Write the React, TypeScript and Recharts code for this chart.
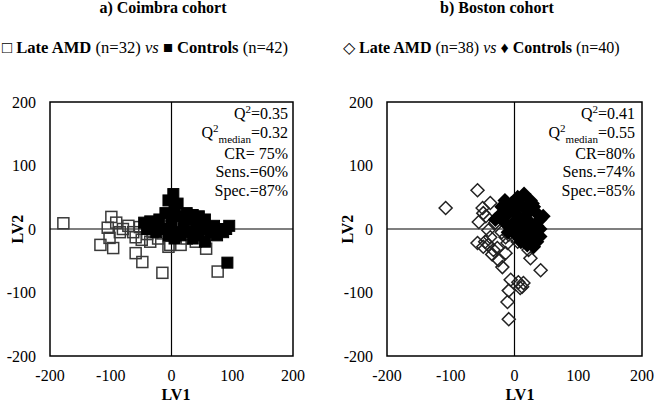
import React from "react";
import {
  ScatterChart,
  Scatter,
  XAxis,
  YAxis,
  ReferenceLine,
  ReferenceArea,
} from "recharts";

const ticks = [-200, -100, 0, 100, 200];

const coimbraAmd = [
  { x: -178, y: 9 }, { x: -99, y: 19 }, { x: -91, y: 10 }, { x: -105, y: 2 },
  { x: -102, y: -14 }, { x: -117, y: -25 }, { x: -96, y: -30 }, { x: -71, y: 5 },
  { x: -63, y: -5 }, { x: -59, y: -13 }, { x: -49, y: -17 }, { x: -59, y: -38 },
  { x: -48, y: -52 }, { x: -35, y: -20 }, { x: -31, y: -5 }, { x: -15, y: -7 },
  { x: -15, y: -69 }, { x: -5, y: -28 }, { x: -2, y: -25 }, { x: 15, y: -25 },
  { x: 57, y: -31 }, { x: 76, y: -67 }, { x: -80, y: 0 }, { x: -40, y: -8 },
  { x: -22, y: -15 }, { x: 5, y: -10 }, { x: 25, y: -15 }, { x: 40, y: -20 },
  { x: -85, y: -5 }, { x: 8, y: 5 }, { x: -52, y: 3 }, { x: 30, y: -8 },
];

const coimbraControls = [
  { x: 3, y: 55 }, { x: -5, y: 45 }, { x: 10, y: 40 }, { x: 5, y: 30 },
  { x: -10, y: 25 }, { x: 15, y: 20 }, { x: -20, y: 15 }, { x: -35, y: 12 },
  { x: -45, y: 10 }, { x: -30, y: 5 }, { x: 25, y: 25 }, { x: 35, y: 22 },
  { x: 30, y: 15 }, { x: 45, y: 20 }, { x: 40, y: 10 }, { x: 55, y: 15 },
  { x: 50, y: 5 }, { x: 60, y: 0 }, { x: 70, y: 5 }, { x: 80, y: 0 },
  { x: 90, y: 0 }, { x: -15, y: 0 }, { x: 0, y: 5 }, { x: 10, y: -5 },
  { x: 20, y: 0 }, { x: 30, y: -5 }, { x: 45, y: -10 }, { x: 65, y: -5 },
  { x: 75, y: -10 }, { x: 85, y: -5 }, { x: 95, y: 5 }, { x: -25, y: -5 },
  { x: -5, y: -10 }, { x: 5, y: -15 }, { x: 15, y: -10 }, { x: 35, y: -15 },
  { x: 55, y: -20 }, { x: 92, y: -53 }, { x: 20, y: 10 }, { x: -40, y: 0 },
  { x: 40, y: -5 }, { x: 0, y: 20 },
];

const bostonAmd = [
  { x: -108, y: 33 }, { x: -58, y: 61 }, { x: -38, y: 41 }, { x: -50, y: 33 },
  { x: -49, y: 25 }, { x: -56, y: 11 }, { x: -41, y: -2 }, { x: -46, y: -20 },
  { x: -41, y: -25 }, { x: -58, y: -22 }, { x: -49, y: -28 }, { x: -33, y: -33 },
  { x: -27, y: -30 }, { x: -25, y: -49 }, { x: -19, y: -60 }, { x: -14, y: -38 },
  { x: -11, y: -22 }, { x: -9, y: -9 }, { x: -14, y: -13 }, { x: -38, y: -13 },
  { x: 22, y: -33 }, { x: 25, y: -46 }, { x: 41, y: -65 }, { x: -6, y: -80 },
  { x: 6, y: -84 }, { x: 12, y: -91 }, { x: 14, y: -85 }, { x: 9, y: -93 },
  { x: -9, y: -97 }, { x: -11, y: -115 }, { x: -9, y: -142 }, { x: -45, y: 20 },
  { x: -30, y: 10 }, { x: -20, y: -5 }, { x: 5, y: -20 }, { x: 15, y: -15 },
  { x: -35, y: -40 }, { x: 30, y: -10 },
];

const bostonControls = [
  { x: 15, y: 55 }, { x: 5, y: 50 }, { x: 25, y: 45 }, { x: -5, y: 40 },
  { x: 10, y: 38 }, { x: -20, y: 35 }, { x: 30, y: 35 }, { x: 0, y: 30 },
  { x: -10, y: 25 }, { x: 20, y: 28 }, { x: 35, y: 25 }, { x: -25, y: 20 },
  { x: 5, y: 20 }, { x: 15, y: 15 }, { x: 40, y: 15 }, { x: -15, y: 10 },
  { x: 25, y: 10 }, { x: -5, y: 5 }, { x: 10, y: 5 }, { x: 35, y: 5 },
  { x: 0, y: 0 }, { x: 20, y: 0 }, { x: 40, y: 0 }, { x: -10, y: -5 },
  { x: 30, y: -5 }, { x: 15, y: -10 }, { x: 5, y: -12 }, { x: 25, y: -15 },
  { x: 40, y: -12 }, { x: 10, y: -20 }, { x: 20, y: -25 }, { x: 35, y: -20 },
  { x: -30, y: 15 }, { x: 45, y: 20 }, { x: 0, y: 12 }, { x: 28, y: 40 },
  { x: -15, y: 45 }, { x: 12, y: -3 }, { x: 30, y: -28 }, { x: 18, y: 22 },
];

// Q2, Q2 median, CR, Sens., Spec.
const coimbraStats = ["0.35", "0.32", " 75%", "60%", "87%"];
const bostonStats = ["0.41", "0.55", "80%", "74%", "85%"];

const FONT = "'Liberation Serif', 'Times New Roman', serif";

const openSquare = (p: any) => (
  <rect x={p.cx - 5.5} y={p.cy - 5.5} width={11} height={11} fill="none" stroke="#3a3a3a" strokeWidth={1.5} />
);
const filledSquare = (p: any) => (
  <rect x={p.cx - 5.5} y={p.cy - 5.5} width={11} height={11} fill="#000" stroke="#000" strokeWidth={1} />
);
const diamondPath = (cx: number, cy: number, r: number) =>
  `M${cx} ${cy - r} L${cx + r} ${cy} L${cx} ${cy + r} L${cx - r} ${cy} Z`;
const openDiamond = (p: any) => (
  <path d={diamondPath(p.cx, p.cy, 6.5)} fill="none" stroke="#222" strokeWidth={1.5} />
);
const filledDiamond = (p: any) => (
  <path d={diamondPath(p.cx, p.cy, 7.5)} fill="#000" />
);

const tickStyle = { fontFamily: FONT, fontSize: 16, fill: "#000" };

function Panel(props: any) {
  const { left, width, yAxisW, rightM, amd, controls, amdShape, ctrlShape } = props;
  return (
    <div style={{ position: "absolute", left, top: 0 }}>
      <ScatterChart width={width} height={404} margin={{ top: 102, right: rightM, bottom: 20, left: 0 }}>
        <XAxis
          type="number"
          dataKey="x"
          domain={[-200, 200]}
          ticks={ticks}
          tickLine={false}
          axisLine={false}
          tickMargin={8}
          height={28}
          tick={tickStyle}
        />
        <YAxis
          type="number"
          dataKey="y"
          domain={[-200, 200]}
          ticks={ticks}
          tickLine={false}
          axisLine={false}
          tickMargin={8}
          width={yAxisW}
          tick={tickStyle}
        />
        <ReferenceArea x1={-200} x2={200} y1={-200} y2={200} fill="none" stroke="#000" strokeWidth={1.5} fillOpacity={0} />
        <ReferenceLine x={0} stroke="#000" strokeWidth={1.2} />
        <ReferenceLine y={0} stroke="#000" strokeWidth={1.2} />
        <Scatter data={amd} shape={amdShape} isAnimationActive={false} />
        <Scatter data={controls} shape={ctrlShape} isAnimationActive={false} />
      </ScatterChart>
    </div>
  );
}

function Stats({ right, values }: { right: number; values: string[] }) {
  const line = (center: number, content: React.ReactNode) => (
    <div style={{ position: "absolute", right, top: center - 9, whiteSpace: "nowrap", lineHeight: "18px", height: 18 }}>{content}</div>
  );
  const sup = <span style={{ fontSize: 11, position: "relative", top: -6 }}>2</span>;
  return (
    <>
      {line(114, <>Q{sup}={values[0]}</>)}
      {line(133, <>Q{sup}<span style={{ fontSize: 11, position: "relative", top: 5 }}>median</span>={values[1]}</>)}
      {line(154, <>CR={values[2]}</>)}
      {line(172, <>Sens.={values[3]}</>)}
      {line(191, <>Spec.={values[4]}</>)}
    </>
  );
}

export default function App() {
  const abs = (s: React.CSSProperties): React.CSSProperties => ({ position: "absolute", whiteSpace: "nowrap", ...s });
  return (
    <div style={{ position: "absolute", left: 0, top: 0, width: 655, height: 404, background: "#fff", fontFamily: FONT, fontSize: 16, color: "#000" }}>
      <Panel left={0} width={330} yAxisW={50} rightM={37} amd={coimbraAmd} controls={coimbraControls} amdShape={openSquare} ctrlShape={filledSquare} />
      <Panel left={330} width={325} yAxisW={57} rightM={13} amd={bostonAmd} controls={bostonControls} amdShape={openDiamond} ctrlShape={filledDiamond} />

      <div style={abs({ left: 0, width: 326, top: -1, textAlign: "center", fontWeight: "bold" })}>a) Coimbra cohort</div>
      <div style={abs({ left: 330, width: 334, top: -1, textAlign: "center", fontWeight: "bold" })}>b) Boston cohort</div>

      <div style={abs({ left: 2, top: 38, fontSize: 16.6 })}>
        □ <b>Late AMD</b> (n=32) <i>vs</i> ■ <b>Controls</b> (n=42)
      </div>
      <div style={abs({ left: 343, top: 38 })}>
        ◇ <b>Late AMD</b> (n=38) <i>vs</i> ♦ <b>Controls</b> (n=40)
      </div>

      <Stats right={655 - 288} values={coimbraStats} />
      <Stats right={655 - 635} values={bostonStats} />

      <div style={abs({ left: 176, top: 386, transform: "translateX(-50%)", fontWeight: "bold" })}>LV1</div>
      <div style={abs({ left: 520, top: 386, transform: "translateX(-50%)", fontWeight: "bold" })}>LV1</div>
      <div style={abs({ left: 18, top: 229, transform: "translate(-50%, -50%) rotate(-90deg)", fontWeight: "bold" })}>LV2</div>
      <div style={abs({ left: 348, top: 229, transform: "translate(-50%, -50%) rotate(-90deg)", fontWeight: "bold" })}>LV2</div>
    </div>
  );
}
